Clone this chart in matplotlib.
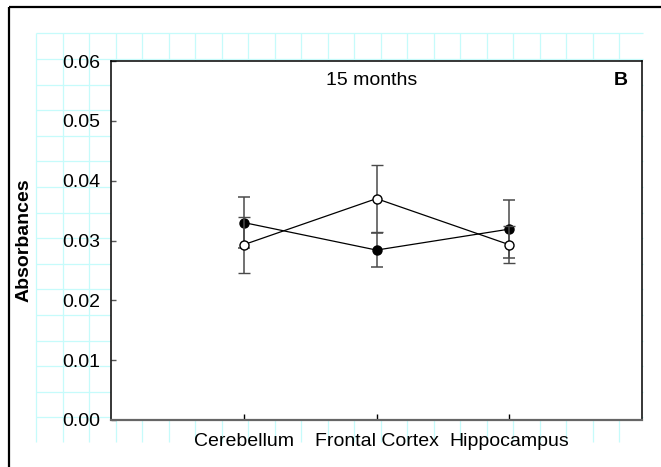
import numpy as np
import matplotlib
matplotlib.use("Agg")
import matplotlib.pyplot as plt
from matplotlib.patches import Rectangle

plt.rcParams["font.family"] = ["Liberation Sans", "DejaVu Sans"]

# Absorbance readings at 15 months for three brain regions
regions = ["Cerebellum", "Frontal Cortex", "Hippocampus"]
filledMean = [0.0330, 0.0284, 0.0319]
filledErr = [0.0043, 0.0028, 0.0049]
openMean = [0.0293, 0.0370, 0.0293]
openErr = [0.0047, 0.0056, 0.0031]
yTicks = [0.00, 0.01, 0.02, 0.03, 0.04, 0.05, 0.06]

W, H = 661, 467
fig = plt.figure(figsize=(W / 100, H / 100), dpi=100)

# Graph-paper backdrop drawn in pixel units
bg = fig.add_axes([0, 0, 1, 1], zorder=0)
bg.set_xlim(0, W)
bg.set_ylim(H, 0)
bg.axis("off")
gridColor = "#c6fbfb"
xs = np.arange(36, 644, 26.5)
ys = np.arange(33.3, 420, 25.6)
bg.vlines(xs, 33.3, 442, color=gridColor, lw=0.9)
bg.hlines(ys, 36, 643, color=gridColor, lw=0.9)
bg.add_patch(Rectangle((8.5, 6.7), 700, 500, fill=False, ec="black", lw=1.6))

ax = fig.add_axes([111 / W, (H - 420) / H, 531 / W, 359 / H], zorder=1)
ax.set_facecolor("white")
x = np.arange(1, len(regions) + 1)

errStyle = dict(ecolor="#4a4a4a", elinewidth=1.1, capsize=4, capthick=1.1)
ax.errorbar(x, filledMean, yerr=filledErr, color="black", lw=0.9, marker="o",
            ms=6.5, mfc="black", mec="black", **errStyle, zorder=3)
ax.errorbar(x, openMean, yerr=openErr, color="black", lw=0.9, marker="o",
            ms=6.5, mfc="white", mec="black", mew=1.0, **errStyle, zorder=4)

ax.set_xlim(0, 4)
ax.set_ylim(0, 0.06)
ax.set_xticks(x)
ax.set_xticklabels(regions, fontsize=14)
ax.set_yticks(yTicks)
ax.set_yticklabels([f"{v:.2f}" for v in yTicks], fontsize=14)
ax.tick_params(axis="x", direction="in", length=4, width=1, color="black", pad=9)
ax.tick_params(axis="y", direction="in", length=3.5, width=1, color="#555555", pad=8)

for side in ["left", "top", "right"]:
    ax.spines[side].set_color("black")
    ax.spines[side].set_linewidth(1.1)
ax.spines["bottom"].set_color("#666666")
ax.spines["bottom"].set_linewidth(1.6)

ax.text(0.49, 0.945, "15 months", transform=ax.transAxes, ha="center",
        va="center", fontsize=14)
ax.text(0.973, 0.945, "B", transform=ax.transAxes, ha="right", va="center",
        fontsize=14, fontweight="bold")
fig.text(24 / W, 1 - 240 / H, "Absorbances", rotation=90, ha="center",
         va="center", fontsize=14, fontweight="bold")

fig.savefig("out.png", dpi=100)
